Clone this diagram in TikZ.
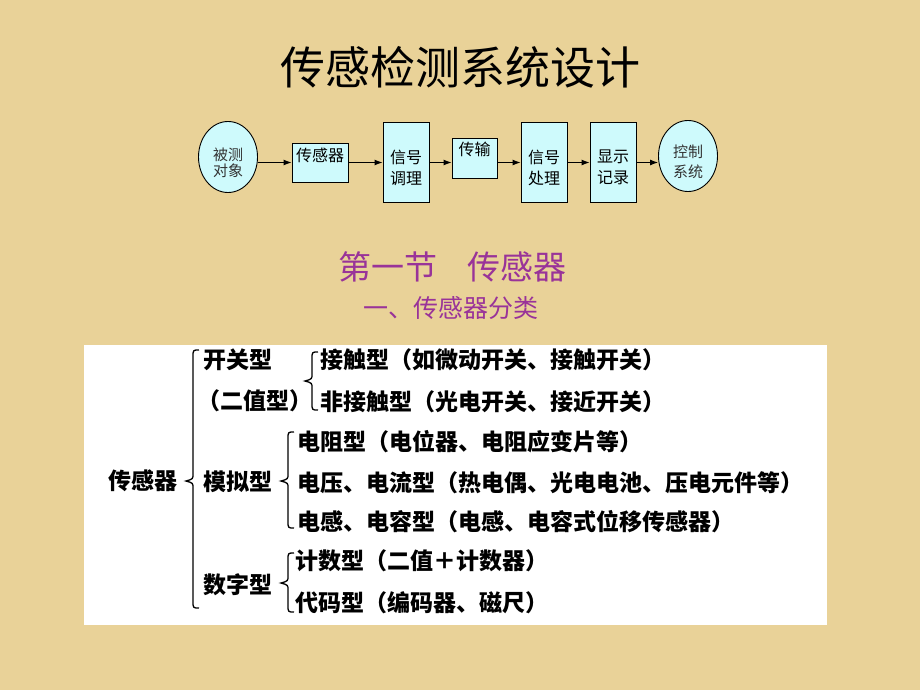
\documentclass[tikz,border=0pt]{standalone}
\usepackage{fontspec}
\newfontfamily\cjk{Noto Sans CJK SC}
\usetikzlibrary{shapes.geometric,arrows.meta}
\definecolor{bgtan}{RGB}{233,210,152}
\definecolor{boxcyan}{RGB}{206,250,252}
\definecolor{plum}{RGB}{153,51,153}
\newcommand\sbrace[4]{%
  \draw[bracestyle] (#1+6,#2) .. controls (#1,#2) .. (#1,#2+7) -- (#1,#3-7)
    .. controls (#1,#3-2) .. (#1-7,#3) .. controls (#1,#3+2) .. (#1,#3+7)
    -- (#1,#4-7) .. controls (#1,#4) .. (#1+6,#4);}
\tikzset{
  flowbox/.style={draw=black, line width=0.9pt, fill=boxcyan, inner sep=0pt},
  flowcirc/.style={draw=black, line width=0.9pt, fill=boxcyan, ellipse, inner sep=0pt, minimum width=59pt, minimum height=71pt},
  flowtext/.style={font=\cjk\fontsize{16}{21}\selectfont, align=center, inner sep=0pt},
  circtext/.style={font=\cjk\fontsize{15}{18}\selectfont, align=center, inner sep=0pt, text=black!80},
  arr/.style={line width=1.1pt, -{Latex[length=8pt,width=6pt]}},
  scan/.style={font=\cjk\bfseries\fontsize{23}{26}\selectfont, anchor=west, inner sep=0pt},
  bracestyle/.style={line width=1.3pt, black}
}
\begin{document}
\begin{tikzpicture}[x=1pt,y=-1pt]
\fill[bgtan] (0,0) rectangle (920,690);
\useasboundingbox (0,0) rectangle (920,690);
% title
\node[font=\cjk\fontsize{45}{50}\selectfont, inner sep=0pt] (title) at (460,67) {传感检测系统设计};
% flow chart
\node[flowcirc] (c1) at (228,157) {};
\node[circtext] (c1t) at (228,163) {被测\\[-2pt]对象};
\node[flowbox, minimum width=56pt, minimum height=39pt] (s1) at (320,162.5) {};
\node[flowtext] (s1t) at (320,155) {传感器};
\node[flowbox, minimum width=46pt, minimum height=80pt] (s2) at (406,162) {};
\node[flowtext] (s2t) at (406,167.5) {信号\\调理};
\node[flowbox, minimum width=45pt, minimum height=40pt] (s3) at (474.5,158) {};
\node[flowtext] (s3t) at (474.5,149) {传输};
\node[flowbox, minimum width=46pt, minimum height=80pt] (s4) at (544,162) {};
\node[flowtext] (s4t) at (544,167.5) {信号\\处理};
\node[flowbox, minimum width=46pt, minimum height=80pt] (s5) at (613,162) {};
\node[flowtext] (s5t) at (613,167.5) {显示\\记录};
\node[flowcirc] (c2) at (688,156) {};
\node[circtext] (c2t) at (688,162) {控制\\[2pt]系统};
\draw[arr] (c1.east |- s1.west) -- (s1.west);
\draw[arr] (s1.east) -- (s2.west |- s1.east);
\draw[arr] (s2.east |- s1.east) -- (s3.west |- s1.east);
\draw[arr] (s3.east |- s1.east) -- (s4.west |- s1.east);
\draw[arr] (s4.east |- s1.east) -- (s5.west |- s1.east);
\draw[arr] (s5.east |- s1.east) -- (c2.west |- s1.east);
% section headings
\node[font=\cjk\fontsize{33}{36}\selectfont, text=plum, inner sep=0pt] (sec) at (452.5,267) {第一节\hspace{0.9em}传感器};
\node[font=\cjk\fontsize{25}{28}\selectfont, text=plum, inner sep=0pt] (sub) at (451,308) {一、传感器分类};
% white panel
\fill[white] (84,345) rectangle (827,625);
\node[scan] (root) at (108,481) {传感器};
\node[scan] (k1) at (203,360) {开关型};
\node[scan] (k2) at (197,401) {（二值型）};
\node[scan] (m1) at (203,482) {模拟型};
\node[scan] (d1) at (203,585) {数字型};
\node[scan] (a1) at (320,360) {接触型（如微动开关、接触开关）};
\node[scan] (a2) at (320,402) {非接触型（光电开关、接近开关）};
\node[scan] (b1) at (297,442) {电阻型（电位器、电阻应变片等）};
\node[scan] (b2) at (297,483) {电压、电流型（热电偶、光电电池、压电元件等）};
\node[scan] (b3) at (297,522) {电感、电容型（电感、电容式位移传感器）};
\node[scan] (e1) at (295,561) {计数型（二值＋计数器）};
\node[scan] (e2) at (295,603) {代码型（编码器、磁尺）};
\sbrace{193}{350}{481}{608}
\sbrace{312}{352}{381}{410}
\sbrace{288}{432}{481}{528}
\sbrace{288}{553}{583}{612}
\end{tikzpicture}
\end{document}
